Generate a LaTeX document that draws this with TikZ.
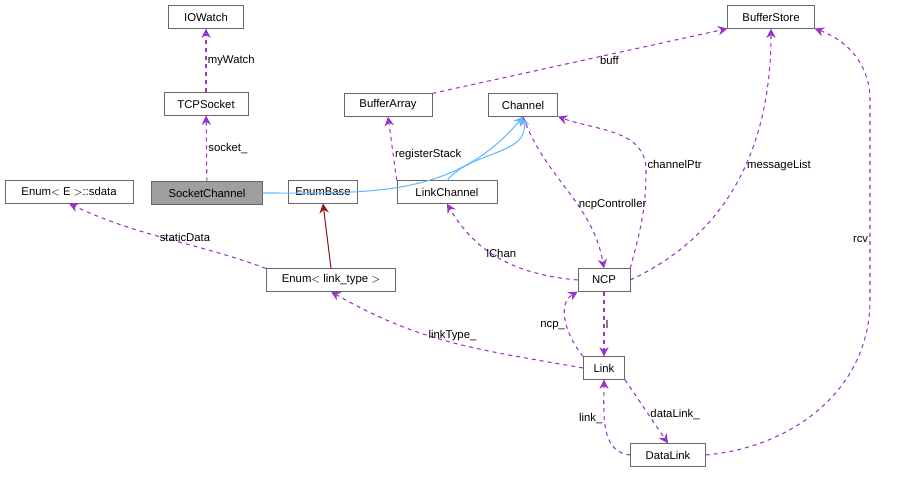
\documentclass[tikz,border=0pt]{standalone}
\usepackage{fontspec}
\setmainfont{Liberation Sans}
\usetikzlibrary{arrows.meta}
\definecolor{usecol}{HTML}{9A32CD}
\definecolor{inhcol}{HTML}{63B8FF}
\definecolor{tmplcol}{HTML}{8B1A1A}

\begin{document}
\begin{tikzpicture}[x=0.75pt, y=-0.75pt,
    every node/.style={font=\fontsize{8.5}{10}\selectfont},
    cls/.style={draw=gray!80!black, fill=white, minimum height=17pt, inner xsep=3pt, inner ysep=0pt},
    use/.style={draw=usecol, thick, dashed, -{Stealth[length=7pt,width=7pt]}},
    inh/.style={draw=inhcol, thick, -{Stealth[length=7pt,width=7pt]}},
    tmpl/.style={draw=tmplcol, thick, -{Stealth[length=7pt,width=7pt]}},
    lbl/.style={fill=none, inner sep=1pt}]
\useasboundingbox (0,0) rectangle (897,476);

% Klassen
\node[cls, minimum width=56pt]  (iowatch) at (206,17)  {IOWatch};
\node[cls, minimum width=63pt]  (tcpsock) at (206,104) {TCPSocket};
\node[cls, minimum width=83pt, fill=gray!75] (sockchan) at (207,193) {SocketChannel};
\node[cls, minimum width=96pt]  (sdata)   at (69,192)  {Enum$<$ E $>$::sdata};
\node[cls, minimum width=52pt]  (enumbase) at (323,192) {EnumBase};
\node[cls, minimum width=66pt]  (bufarr)  at (388,105) {BufferArray};
\node[cls, minimum width=52pt]  (channel) at (523,105) {Channel};
\node[cls, minimum width=75pt]  (linkchan) at (447,192) {LinkChannel};
\node[cls, minimum width=65pt]  (bufstore) at (771,17)  {BufferStore};
\node[cls, minimum width=97pt]  (enumlt)  at (331,280) {Enum$<$ link\_type $>$};
\node[cls, minimum width=39pt]  (ncp)     at (604,280) {NCP};
\node[cls, minimum width=31pt]  (link)    at (604,368) {Link};
\node[cls, minimum width=56pt]  (datalink) at (668,455) {DataLink};

% Vererbung
\draw[inh] (sockchan.east) to[out=0, in=-130] (channel.south);
\draw[inh] (linkchan.north) to[out=50, in=-80] (channel.south);
\draw[tmpl] (enumlt.north) -- (enumbase.south);

% Verwendung
\draw[use] (tcpsock) -- node[lbl, right] {myWatch} (iowatch);
\draw[use] (sockchan) -- node[lbl, right] {socket\_} (tcpsock);
\draw[use] (linkchan.north west) -- node[lbl, right, pos=0.4] {registerStack} (bufarr.south);
\draw[use] (bufarr.north east) -- node[lbl, below, pos=0.6] {buff} (bufstore.south west);
\draw[use] (enumlt.north west) to[out=160, in=-25] node[lbl, above, pos=0.4] {staticData} (sdata.south);
\draw[use] (ncp.west) to[out=175, in=-60] node[lbl, above, pos=0.5] {lChan} (linkchan.south);
\draw[use] (channel.south) to[out=-70, in=100] node[lbl, right, pos=0.6] {ncpController} (ncp.north);
\draw[use] (ncp.north east) to[out=75, in=-90] (646,170) to[out=90, in=-20] node[lbl, right, pos=0.05] {channelPtr} (channel.south east);
\draw[use] (ncp.east) to[out=25, in=-90] node[lbl, right, pos=0.55] {messageList} (bufstore.south);
\draw[use] (link.north west) to[out=130, in=-150] node[lbl, left, pos=0.45] {ncp\_} (ncp.south west);
\draw[use] (ncp.south) -- node[lbl, right] {l} (link.north);
\draw[use] (link.west) to[out=170, in=-30] node[lbl, above, pos=0.5] {linkType\_} (enumlt.south);
\draw[use] (datalink.west) to[out=175, in=-90] node[lbl, left, pos=0.6] {link\_} (link.south);
\draw[use] (link.south east) -- node[lbl, right, pos=0.55] {dataLink\_} (datalink.north);
\draw[use] (datalink.east) to[out=5, in=-90] (870,300) -- node[lbl, left, pos=0.3] {rcv} (870,100) to[out=90, in=-20] (bufstore.south east);
\end{tikzpicture}
\end{document}
